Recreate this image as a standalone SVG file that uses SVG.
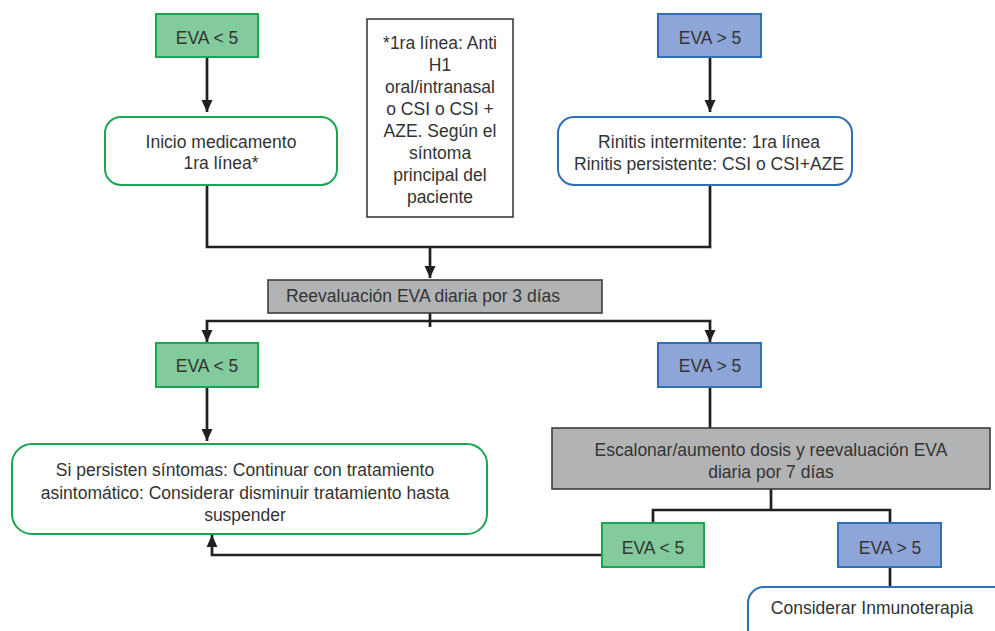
<svg xmlns="http://www.w3.org/2000/svg" width="995" height="631" viewBox="0 0 995 631">
<style>
text{font-family:"Liberation Sans",Arial,sans-serif;font-size:17.5px;fill:#333;text-anchor:middle}
.g{fill:#83cb9c;stroke:#1aa550;stroke-width:2}
.b{fill:#8ea6d7;stroke:#2e6fb7;stroke-width:2}
.gw{fill:#fff;stroke:#1aa550;stroke-width:2}
.bw{fill:#fff;stroke:#2e6fb7;stroke-width:2}
.gr{fill:#b2b3b5;stroke:#3d3d3d;stroke-width:1.6}
.nt{fill:#fff;stroke:#3d3d3d;stroke-width:1.6}
.c{fill:none;stroke:#231f20;stroke-width:2.7}
</style>
<defs>
<marker id="ah" markerUnits="userSpaceOnUse" markerWidth="12" markerHeight="14" refX="12" refY="6" orient="auto" viewBox="0 0 12 12">
<polygon points="0,0.5 12,6 0,11.5" fill="#231f20"/>
</marker>
</defs>
<rect width="995" height="631" fill="#fff"/>
<g id="connectors">
<path class="c" d="M207,57 V112" marker-end="url(#ah)"/>
<path class="c" d="M710,57 V112" marker-end="url(#ah)"/>
<path class="c" d="M207,185 V247 H710 V185"/>
<path class="c" d="M430,247 V278" marker-end="url(#ah)"/>
<path class="c" d="M430,313 V327"/>
<path class="c" d="M430,321 H207 V342" marker-end="url(#ah)"/>
<path class="c" d="M430,321 H710 V342" marker-end="url(#ah)"/>
<path class="c" d="M207,387 V441" marker-end="url(#ah)"/>
<path class="c" d="M710,387 V428"/>
<path class="c" d="M771,489 V510"/>
<path class="c" d="M653,523 V510 H890 V523"/>
<path class="c" d="M602,555 H212 V535" marker-end="url(#ah)"/>
<path class="c" d="M890,567 V587"/>
</g>
<g id="eva-lt5-top">
<rect class="g" x="156" y="14" width="102" height="43"/>
<text x="207" y="44">EVA &lt; 5</text>
</g>
<g id="eva-gt5-top">
<rect class="b" x="658" y="14" width="103" height="43"/>
<text x="710" y="44">EVA &gt; 5</text>
</g>
<g id="note">
<rect class="nt" x="367" y="19" width="146" height="198"/>
<text x="440" y="48.5">*1ra línea: Anti</text>
<text x="440" y="70.5">H1</text>
<text x="440" y="92.5">oral/intranasal</text>
<text x="440" y="114.5">o CSI o CSI +</text>
<text x="440" y="136.5">AZE. Según el</text>
<text x="440" y="158.5">síntoma</text>
<text x="440" y="180.5">principal del</text>
<text x="440" y="202.5">paciente</text>
</g>
<g id="inicio">
<rect class="gw" x="105" y="117" width="232" height="68" rx="16"/>
<text x="221" y="148">Inicio medicamento</text>
<text x="221" y="169">1ra línea*</text>
</g>
<g id="rinitis">
<rect class="bw" x="558" y="117" width="294" height="68" rx="16"/>
<text x="709" y="148">Rinitis intermitente: 1ra línea</text>
<text x="709" y="169.5">Rinitis persistente: CSI o CSI+AZE</text>
</g>
<g id="reevaluacion">
<rect class="gr" x="268" y="280" width="334" height="33"/>
<text x="423" y="302">Reevaluación EVA diaria por 3 días</text>
</g>
<g id="eva-lt5-mid">
<rect class="g" x="156" y="343" width="102" height="44"/>
<text x="207" y="372">EVA &lt; 5</text>
</g>
<g id="eva-gt5-mid">
<rect class="b" x="658" y="343" width="103" height="44"/>
<text x="710" y="372">EVA &gt; 5</text>
</g>
<g id="si-persisten">
<rect class="gw" x="12" y="444" width="475" height="90" rx="20"/>
<text x="245" y="476">Si persisten síntomas: Continuar con tratamiento</text>
<text x="245" y="499">asintomático: Considerar disminuir tratamiento hasta</text>
<text x="245" y="521">suspender</text>
</g>
<g id="escalonar">
<rect class="gr" x="552" y="428" width="438" height="61"/>
<text x="771" y="456">Escalonar/aumento dosis y reevaluación EVA</text>
<text x="771" y="478">diaria por 7 días</text>
</g>
<g id="eva-lt5-bottom">
<rect class="g" x="602" y="523" width="102" height="44"/>
<text x="653" y="554">EVA &lt; 5</text>
</g>
<g id="eva-gt5-bottom">
<rect class="b" x="838" y="523" width="103" height="44"/>
<text x="890" y="554">EVA &gt; 5</text>
</g>
<g id="inmunoterapia">
<rect class="bw" x="748" y="587" width="300" height="80" rx="16"/>
<text x="872" y="614">Considerar Inmunoterapia</text>
</g>
</svg>
